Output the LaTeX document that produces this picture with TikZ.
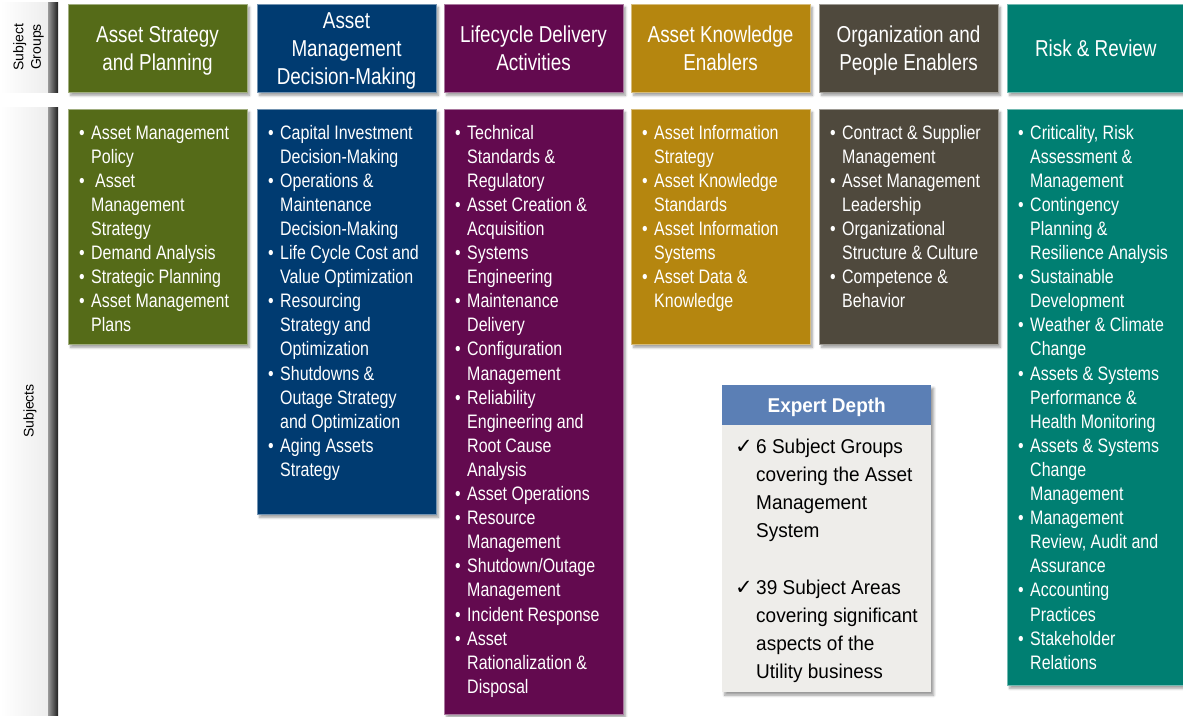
\documentclass[tikz,border=0pt]{standalone}
\usepackage{fontspec}
\setmainfont{Liberation Sans}[FakeStretch=0.82]
\newfontfamily\sidefont{Liberation Sans}
\newfontfamily\depthfont{Liberation Sans}[FakeStretch=0.95]
\newfontfamily\tickfont{DejaVu Sans}
\usetikzlibrary{shadows.blur}

\definecolor{strategy}{HTML}{556B18}
\definecolor{decision}{HTML}{003B71}
\definecolor{lifecycle}{HTML}{630A4F}
\definecolor{knowledge}{HTML}{B5860F}
\definecolor{people}{HTML}{4F493D}
\definecolor{risk}{HTML}{007F72}
\definecolor{depthhead}{HTML}{5B7FB5}
\definecolor{depthbody}{HTML}{EEEDEA}

\newcommand{\bul}{\makebox[12pt][l]{\textbullet}}
\newcommand{\ind}{\hspace*{12pt}}
\newcommand{\tick}{\makebox[21pt][l]{\tickfont\fontsize{21}{28}\selectfont ✓}}
\newcommand{\tind}{\hspace*{21pt}}

\tikzset{
  shade box/.style={blur shadow={shadow xshift=2.5pt, shadow yshift=-3pt,
      shadow blur radius=2.5pt, shadow blur steps=6, shadow opacity=40}},
  group/.style={shade box, anchor=north west, inner sep=0pt, minimum width=178.5pt,
      minimum height=88pt, align=center, text=white, draw=#1!55!white,
      line width=0.6pt, fill=#1, text depth=0pt, font=\fontsize{23}{28}\selectfont},
  subject/.style={shade box, anchor=north west, inner sep=0pt, minimum width=178.5pt,
      draw=#1!55!white, line width=0.6pt, fill=#1},
  subjtext/.style={anchor=base west, inner sep=0pt, text=white,
      font=\fontsize{19.5}{24.1}\selectfont},
  sidelabel/.style={rotate=90, align=center, inner sep=0pt,
      font=\sidefont\fontsize{14}{17.5}\selectfont},
}

\begin{document}
\begin{tikzpicture}[x=1pt,y=-1pt]
\useasboundingbox (0,0) rectangle (1183,717);

\shade[left color=white, right color=black!7] (0,3) rectangle (48,92);
\shade[left color=black!40, right color=black!88] (48,3) rectangle (58,92);
\shade[left color=white, right color=black!7] (0,107) rectangle (48,715);
\shade[left color=black!40, right color=black!88] (48,107) rectangle (58,715);
\node[sidelabel] (lgroups) at (28.5,47) {Subject\\Groups};
\node[sidelabel] (lsubjects) at (30,411) {Subjects};

\node[group=strategy] (hA) at (68,4) {Asset Strategy\\and Planning};
\node[group=decision] (hB) at (257,4) {Asset\\Management\\Decision-Making};
\node[group=lifecycle] (hC) at (444,4) {Lifecycle Delivery\\Activities};
\node[group=knowledge] (hD) at (631,4) {Asset Knowledge\\Enablers};
\node[group=people] (hE) at (819,4) {Organization and\\People Enablers};
\node[group=risk, minimum width=177pt] (hF) at (1007,4) {Risk \& Review};

\node[subject=strategy, minimum height=235pt] (bA) at (68,109) {};
\node[subject=decision, minimum height=405pt] (bB) at (257,109) {};
\node[subject=lifecycle, minimum height=605pt] (bC) at (444,109) {};
\node[subject=knowledge, minimum height=235pt] (bD) at (631,109) {};
\node[subject=people, minimum height=235pt] (bE) at (819,109) {};
\node[subject=risk, minimum width=177pt, minimum height=576pt] (bF) at (1007,109) {};

\node[subjtext] (tA) at ([xshift=11pt,yshift=-30pt]bA.north west) {\parbox[t]{200pt}{%
  \bul Asset Management\\ \ind Policy\\
  \bul\hspace{4pt}Asset\\ \ind Management\\ \ind Strategy\\
  \bul Demand Analysis\\
  \bul Strategic Planning\\
  \bul Asset Management\\ \ind Plans}};
\node[subjtext] (tB) at ([xshift=11pt,yshift=-30pt]bB.north west) {\parbox[t]{200pt}{%
  \bul Capital Investment\\ \ind Decision-Making\\
  \bul Operations \&\\ \ind Maintenance\\ \ind Decision-Making\\
  \bul Life Cycle Cost and\\ \ind Value Optimization\\
  \bul Resourcing\\ \ind Strategy and\\ \ind Optimization\\
  \bul Shutdowns \&\\ \ind Outage Strategy\\ \ind and Optimization\\
  \bul Aging Assets\\ \ind Strategy}};
\node[subjtext] (tC) at ([xshift=11pt,yshift=-30pt]bC.north west) {\parbox[t]{200pt}{%
  \bul Technical\\ \ind Standards \&\\ \ind Regulatory\\
  \bul Asset Creation \&\\ \ind Acquisition\\
  \bul Systems\\ \ind Engineering\\
  \bul Maintenance\\ \ind Delivery\\
  \bul Configuration\\ \ind Management\\
  \bul Reliability\\ \ind Engineering and\\ \ind Root Cause\\ \ind Analysis\\
  \bul Asset Operations\\
  \bul Resource\\ \ind Management\\
  \bul Shutdown/Outage\\ \ind Management\\
  \bul Incident Response\\
  \bul Asset\\ \ind Rationalization \&\\ \ind Disposal}};
\node[subjtext] (tD) at ([xshift=11pt,yshift=-30pt]bD.north west) {\parbox[t]{200pt}{%
  \bul Asset Information\\ \ind Strategy\\
  \bul Asset Knowledge\\ \ind Standards\\
  \bul Asset Information\\ \ind Systems\\
  \bul Asset Data \&\\ \ind Knowledge}};
\node[subjtext] (tE) at ([xshift=11pt,yshift=-30pt]bE.north west) {\parbox[t]{200pt}{%
  \bul Contract \& Supplier\\ \ind Management\\
  \bul Asset Management\\ \ind Leadership\\
  \bul Organizational\\ \ind Structure \& Culture\\
  \bul Competence \&\\ \ind Behavior}};
\node[subjtext] (tF) at ([xshift=11pt,yshift=-30pt]bF.north west) {\parbox[t]{200pt}{%
  \bul Criticality, Risk\\ \ind Assessment \&\\ \ind Management\\
  \bul Contingency\\ \ind Planning \&\\ \ind Resilience Analysis\\
  \bul Sustainable\\ \ind Development\\
  \bul Weather \& Climate\\ \ind Change\\
  \bul Assets \& Systems\\ \ind Performance \&\\ \ind Health Monitoring\\
  \bul Assets \& Systems\\ \ind Change\\ \ind Management\\
  \bul Management\\ \ind Review, Audit and\\ \ind Assurance\\
  \bul Accounting\\ \ind Practices\\
  \bul Stakeholder\\ \ind Relations}};

\node[shade box, anchor=north west, inner sep=0pt, fill=depthbody, minimum width=209pt,
  minimum height=307pt] (xbody) at (722,385) {};
\node[anchor=north west, inner sep=0pt, fill=depthhead, minimum width=209pt,
  minimum height=40pt, text=white, text depth=0pt,
  font=\depthfont\bfseries\fontsize{20}{24}\selectfont]
  (xhead) at (xbody.north west) {Expert Depth};
\node[anchor=base west, inner sep=0pt] (xtext) at (735,453.5) {\parbox[t]{195pt}{%
  \depthfont\fontsize{20}{28}\selectfont
  \tick 6 Subject Groups\\ \tind covering the Asset\\ \tind Management\\ \tind System\\[29pt]
  \tick 39 Subject Areas\\ \tind covering significant\\ \tind aspects of the\\ \tind Utility business}};
\end{tikzpicture}
\end{document}
